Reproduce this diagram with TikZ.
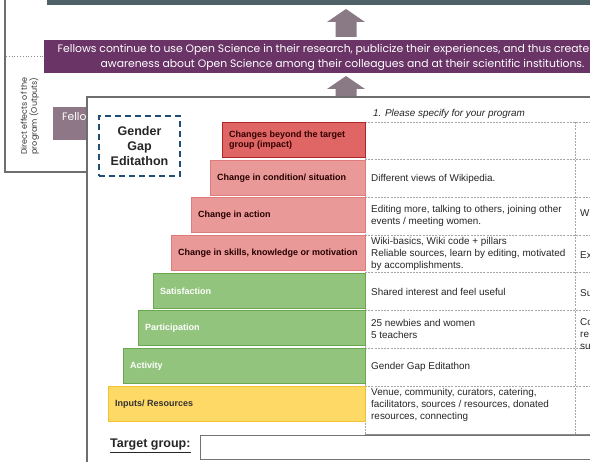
\documentclass[tikz,border=0pt]{standalone}
\usepackage{fontspec}
\setmainfont{Liberation Sans}
\newfontfamily\slidefont{Poppins}
\definecolor{slate}{HTML}{4E6166}
\definecolor{plum}{HTML}{6A3467}
\definecolor{mauve}{HTML}{8E7786}
\definecolor{arrowmauve}{HTML}{8A7A86}
\definecolor{framegray}{HTML}{6E6E6E}
\definecolor{editblue}{HTML}{1F4E79}
\definecolor{impactred}{HTML}{E06666}
\definecolor{impactedge}{HTML}{B02626}
\definecolor{changered}{HTML}{EA9999}
\definecolor{changeedge}{HTML}{DF7B7B}
\definecolor{outgreen}{HTML}{93C47D}
\definecolor{outedge}{HTML}{6AA84F}
\definecolor{inyellow}{HTML}{FFD966}
\definecolor{inedge}{HTML}{F1C232}
\tikzset{
  bar/.style = {anchor = north west, inner sep = 0, minimum height = 35, line width = 1pt},
  barlabel/.style = {anchor = west, inner sep = 0, align = left, font = \fontsize{9}{10.5}\selectfont\bfseries},
  rowtext/.style = {anchor = west, inner sep = 0, align = left, text = black!85, font = \fontsize{9.9}{12}\selectfont},
  tabline/.style = {draw = black!35, line width = .6pt, dash pattern = on 2pt off 1.2pt}
}
\begin{document}
\begin{tikzpicture}[x = 1pt, y = -1pt]
  \useasboundingbox (0, 0) rectangle (590, 462);
  \clip (0, 0) rectangle (590, 462);
  \def\tabright{600}
  \def\rowh{37.7}
  \def\tabtop{122}
  \fill[slate] (47, -10) rectangle (\tabright, 5);
  \draw[framegray, line width = 1.5pt] (5, -10) -- (5, 172) -- (90, 172);
  \draw[black!45, dotted, line width = .8pt] (6, 56) -- (43, 56);
  \node[rotate = 90, align = center, text = black!80, font = \slidefont\fontsize{8}{10}\selectfont] (outlabel) at (30, 116) {Direct effects of the\\program (Outputs)};
  \foreach \tip/\foot in {9/37, 76/97}
    \fill[arrowmauve] (335.5, \foot) -- (335.5, \tip + 13) -- (327, \tip + 13) -- (346, \tip) -- (365, \tip + 13) -- (356.5, \tip + 13) -- (356.5, \foot) -- cycle;
  \node[bar, fill = plum, minimum width = 560, minimum height = 33, text = white, align = center, font = \slidefont\fontsize{10.8}{15}\selectfont] (outcome) at (43, 40) {Fellows continue to use Open Science in their research, publicize their experiences, and thus create\\\hspace*{38pt}awareness about Open Science among their colleagues and at their scientific institutions.};
  \node[bar, fill = mauve, minimum width = 300, minimum height = 33] (outputs) at (52, 107) {};
  \node[anchor = west, inner sep = 0, text = white, font = \slidefont\fontsize{10.8}{15}\selectfont] (outputstext) at (62, 117) {Fello};
  \draw[framegray, line width = 1.5pt, fill = white] (87, 97) rectangle (\tabright, 480);
  \node[draw = editblue, line width = 2pt, dash pattern = on 6pt off 4pt, minimum width = 81, minimum height = 60, align = center, text = black!85, font = \fontsize{12.5}{15}\selectfont\bfseries] (event) at (139.5, 146) {Gender\\Gap\\Editathon};
  \node[anchor = west, inner sep = 0, text = black!85, font = \fontsize{9.9}{12}\selectfont\itshape] (specify) at (373, 114) {1. Please specify for your program};
  \foreach \r in {0, ..., 7}
    \draw[tabline] (365, {\tabtop + \r*\rowh}) -- (\tabright, {\tabtop + \r*\rowh});
  \draw[tabline] (365, \tabtop) -- (365, 434);
  \draw[tabline] (575, \tabtop) -- (575, 434);
  \draw[black!45, line width = .8pt] (365, 434) -- (\tabright, 434);
  \foreach \lft/\fc/\ec/\tc/\lbl [count = \i] in {
      222/impactred/impactedge/black!80!red/{Changes beyond the target\\group (impact)},
      210/changered/changeedge/black!85!red/{Change in condition/ situation},
      191/changered/changeedge/black!85!red/{Change in action},
      171/changered/changeedge/black!85!red/{Change in skills, knowledge or motivation},
      153/outgreen/outedge/white/{Satisfaction},
      138/outgreen/outedge/white/{Participation},
      123/outgreen/outedge/white/{Activity},
      108/inyellow/inedge/black!80/{Inputs/ Resources}} {
    \node[bar, fill = \fc, draw = \ec, minimum width = {365 - \lft}] (level\i) at (\lft, {\tabtop + (\i - 1)*\rowh}) {};
    \node[barlabel, text = \tc] (level\i text) at ([xshift = 7pt]level\i.west) {\lbl};
  }
  \foreach \txt [count = \i] in {
      {},
      {Different views of Wikipedia.},
      {Editing more, talking to others, joining other\\events / meeting women.},
      {Wiki-basics, Wiki code + pillars\\Reliable sources, learn by editing, motivated\\by accomplishments.},
      {Shared interest and feel useful},
      {25 newbies and women\\5 teachers},
      {Gender Gap Editathon},
      {Venue, community, curators, catering,\\facilitators, sources / resources, donated\\resources, connecting}}
    \node[rowtext] (row\i) at (371, {\tabtop + (\i - .5)*\rowh}) {\txt};
  \node[rowtext] (more3) at (580, 213) {W};
  \node[rowtext] (more4) at (580, 255) {Ex};
  \node[rowtext] (more5) at (580, 293) {Su};
  \node[rowtext] (more6) at (580, 334) {Co\\re\\su};
  \node[anchor = west, inner sep = 0, text = black!85, font = \fontsize{12.5}{15}\selectfont\bfseries] (target) at (110, 446) {\underline{Target group:}};
  \draw[black!55, line width = 1pt] (200, 436) rectangle (\tabright, 460);
\end{tikzpicture}
\end{document}
